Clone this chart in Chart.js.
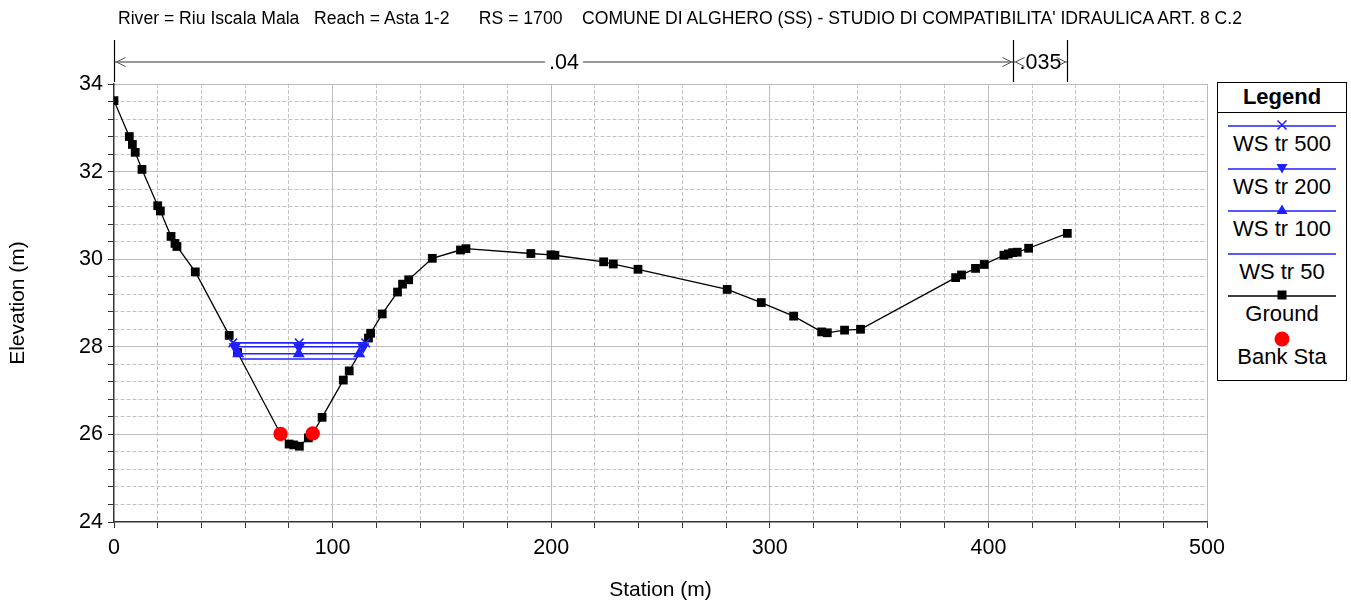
<!DOCTYPE html>
<html>
<head>
    <meta charset="utf-8">
    <title>Riu Iscala Mala - Asta 1-2 - RS 1700</title>
    <script src="https://cdn.jsdelivr.net/npm/chart.js@4.4.1/dist/chart.umd.min.js"></script>
    <style>
        body { margin: 0; background: #fff; font-family: "Liberation Sans", Arial, sans-serif; }
        #wrap { position: relative; width: 1351px; height: 601px; }
        #xs { position: absolute; left: 0; top: 0; }
        #title { position: absolute; left: 118px; top: 8px; font-size: 17.6px; line-height: 20px; white-space: pre; color: #000; }
        #legend { position: absolute; left: 1217px; top: 82px; width: 128px; height: 297px; border: 1px solid #000; background: #fff; }
        #legend .head { position: absolute; left: 0; top: 0; width: 128px; height: 29px; border-bottom: 1px solid #000;
                        font-weight: bold; font-size: 22px; line-height: 28px; text-align: center; }
        #legend .lab { position: absolute; left: 0; width: 128px; text-align: center; font-size: 22px; line-height: 24px; }
        #legend svg { position: absolute; left: 0; }
    </style>
</head>
<body>
<div id="wrap">
    <canvas id="xs" width="1351" height="601"></canvas>
    <div id="title">River = Riu Iscala Mala   Reach = Asta 1-2      RS = 1700    COMUNE DI ALGHERO (SS) - STUDIO DI COMPATIBILITA' IDRAULICA ART. 8 C.2</div>
    <div id="legend"><div class="head">Legend</div></div>
</div>

<script>
    // ground profile (station m, elevation m)
    var groundSta = [0, 7.0, 8.4, 9.7, 12.8, 20.0, 21.2, 26.1, 27.9, 28.8,
        37.2, 52.7, 56.5, 76.2, 80.1, 82.2, 84.8, 88.9, 90.9, 95.2,
        104.9, 107.6, 116.4, 117.4, 122.7, 129.7, 132.0, 134.8, 145.6, 158.5,
        161.0, 190.7, 199.9, 201.7, 224.0, 228.4, 239.7, 280.5, 296.1, 310.9,
        323.7, 326.3, 334.2, 341.5, 385.0, 387.7, 394.1, 398.1, 407.1, 409.1,
        411.1, 413.2, 418.4, 436.1];
    var groundElev = [33.62, 32.80, 32.62, 32.44, 32.05, 31.22, 31.10, 30.52, 30.36, 30.29,
        29.71, 28.26, 27.87, 26.01, 25.78, 25.76, 25.73, 25.92, 26.02, 26.39,
        27.24, 27.45, 28.20, 28.31, 28.75, 29.25, 29.43, 29.53, 30.02, 30.21,
        30.24, 30.13, 30.10, 30.09, 29.94, 29.89, 29.77, 29.31, 29.01, 28.70,
        28.34, 28.32, 28.38, 28.40, 29.58, 29.64, 29.79, 29.88, 30.09, 30.12,
        30.15, 30.16, 30.25, 30.59];

    var bankSta = [76.2, 90.9];
    var bankElev = [26.01, 26.02];

    var wsNames = ['WS tr 500', 'WS tr 200', 'WS tr 100', 'WS tr 50'];
    var wsElev = [28.09, 28.00, 27.84, 27.72];

    // manning's n zones
    var nSta = [0, 411.1, 436.1];
    var nVal = ['.04', '.035'];

    var xMin = 0, xMax = 500, xMajorStep = 100, xMinorStep = 20;
    var yMin = 24, yMax = 34, yMajorStep = 2, yMinorStep = 0.4;

    var FONT = '"Liberation Sans", Arial, sans-serif';
    var wsColor = '#1f1fff';

    function isMult(v, step) {
        var r = v / step;
        return Math.abs(r - Math.round(r)) < 1e-6;
    }

    function cross(i, j, elev) {
        var t = (elev - groundElev[i]) / (groundElev[j] - groundElev[i]);
        return groundSta[i] + t * (groundSta[j] - groundSta[i]);
    }

    // where a water level meets the banks, searching out from the thalweg
    function wsExtent(elev) {
        var iMin = 0, i;
        for (i = 1; i < groundElev.length; i++) if (groundElev[i] < groundElev[iMin]) iMin = i;
        var left = groundSta[0], right = groundSta[groundSta.length - 1];
        for (i = iMin; i > 0; i--) {
            if (groundElev[i - 1] >= elev) { left = cross(i - 1, i, elev); break; }
        }
        for (i = iMin; i < groundElev.length - 1; i++) {
            if (groundElev[i + 1] >= elev) { right = cross(i, i + 1, elev); break; }
        }
        return [left, right];
    }

    var wsMarkers = [
        {style: 'crossRot', rot: 0, r: 6},
        {style: 'triangle', rot: 180, r: 5.5},
        {style: 'triangle', rot: 0, r: 5.5},
        {style: 'circle', rot: 0, r: 0}
    ];

    var datasets = [];
    datasets.push({
        label: 'Bank Sta',
        data: bankSta.map(function (s, i) { return {x: s, y: bankElev[i]}; }),
        showLine: false, pointStyle: 'circle', pointRadius: 7.2,
        backgroundColor: '#ff0000', borderColor: '#ff0000', pointBorderWidth: 0, order: 0
    });
    wsNames.forEach(function (name, k) {
        var ext = wsExtent(wsElev[k]);
        var m = wsMarkers[k];
        datasets.push({
            label: name,
            data: [{x: ext[0], y: wsElev[k]}, {x: (ext[0] + ext[1]) / 2, y: wsElev[k]}, {x: ext[1], y: wsElev[k]}],
            showLine: true, borderColor: wsColor, backgroundColor: wsColor, borderWidth: 1.6,
            pointStyle: m.style, pointRotation: m.rot, pointRadius: m.r, pointBorderWidth: 1.5,
            order: 1 + k
        });
    });
    datasets.push({
        label: 'Ground',
        data: groundSta.map(function (s, i) { return {x: s, y: groundElev[i]}; }),
        showLine: true, borderColor: '#000', backgroundColor: '#000', borderWidth: 1.3,
        pointStyle: 'rect', pointRadius: 6.2, pointBorderWidth: 0, order: 10
    });

    // n-value bands above the plot
    var nValuePlugin = {
        id: 'nValues',
        afterDraw: function (chart) {
            var c = chart.ctx, xs = chart.scales.x;
            var top = chart.chartArea.top;
            var yl = top - 22, y0 = top - 44;
            var px = nSta.map(function (s) { return Math.round(xs.getPixelForValue(s)) + 0.5; });
            c.save();
            c.strokeStyle = '#000';
            c.lineWidth = 1.2;
            px.forEach(function (p) {
                c.beginPath(); c.moveTo(p, y0); c.lineTo(p, top - 2); c.stroke();
            });
            c.font = '21.5px ' + FONT;
            c.textAlign = 'center';
            c.textBaseline = 'middle';
            c.lineWidth = 1;
            for (var i = 0; i < nVal.length; i++) {
                var a = px[i], b = px[i + 1], mid = (a + b) / 2;
                var w = c.measureText(nVal[i]).width;
                c.strokeStyle = '#333';
                if (mid - w / 2 - 4 > a) {
                    c.beginPath(); c.moveTo(a, yl); c.lineTo(mid - w / 2 - 4, yl);
                    c.moveTo(mid + w / 2 + 4, yl); c.lineTo(b, yl); c.stroke();
                }
                c.strokeStyle = '#555';
                c.beginPath();
                c.moveTo(a + 11, yl - 4.5); c.lineTo(a + 2, yl); c.lineTo(a + 11, yl + 4.5);
                c.moveTo(b - 11, yl - 4.5); c.lineTo(b - 2, yl); c.lineTo(b - 11, yl + 4.5);
                c.stroke();
                c.fillStyle = '#000';
                c.fillText(nVal[i], mid, yl + 1);
            }
            c.restore();
        }
    };

    var tickFont = {family: FONT, size: 21.5};
    var axisTitleFont = {family: FONT, size: 21, lineHeight: 1};

    var chart = new Chart(document.getElementById('xs'), {
        type: 'scatter',
        data: {datasets: datasets},
        options: {
            responsive: false,
            animation: false,
            events: [],
            layout: {padding: {top: 84, right: 144, left: 0, bottom: 0}},
            plugins: {legend: {display: false}, title: {display: false}, tooltip: {enabled: false}},
            scales: {
                x: {
                    type: 'linear', position: 'bottom', min: xMin, max: xMax,
                    ticks: {
                        stepSize: xMinorStep, autoSkip: false, maxRotation: 0, padding: 7, color: '#000', font: tickFont,
                        callback: function (v) { return isMult(v, xMajorStep) ? String(v) : ''; }
                    },
                    grid: {
                        color: function (c) { return isMult(c.tick.value, xMajorStep) ? 'rgba(0,0,0,0)' : '#c4c4c4'; },
                        lineWidth: 1, tickColor: '#333', tickLength: 6, tickWidth: 1
                    },
                    border: {color: '#333', width: 1.5, dash: [4, 2]},
                    title: {display: true, text: 'Station (m)', color: '#000', font: axisTitleFont, padding: {top: 2, bottom: 0}},
                    afterFit: function (s) { s.height = 79; }
                },
                xMajor: {
                    type: 'linear', position: 'bottom', min: xMin, max: xMax,
                    ticks: {stepSize: xMajorStep, display: false},
                    grid: {
                        color: function (c) { return c.tick.value === xMin ? 'rgba(0,0,0,0)' : '#bdbdbd'; },
                        drawTicks: false, lineWidth: 1
                    },
                    border: {display: false},
                    afterFit: function (s) { s.height = 0; }
                },
                y: {
                    type: 'linear', position: 'left', min: yMin, max: yMax,
                    ticks: {
                        stepSize: yMinorStep, autoSkip: false, padding: 5, color: '#000', font: tickFont,
                        callback: function (v) { return isMult(v, yMajorStep) ? String(Math.round(v)) : ''; }
                    },
                    grid: {
                        color: function (c) { return isMult(c.tick.value, yMajorStep) ? 'rgba(0,0,0,0)' : '#c4c4c4'; },
                        lineWidth: 1, tickColor: '#333', tickLength: 6, tickWidth: 1
                    },
                    border: {color: '#333', width: 1.5, dash: [4, 2]},
                    title: {display: true, text: 'Elevation (m)', color: '#000', font: axisTitleFont, padding: {top: 8, bottom: 4}},
                    afterFit: function (s) { s.width = 114; }
                },
                yMajor: {
                    type: 'linear', position: 'left', min: yMin, max: yMax,
                    ticks: {stepSize: yMajorStep, display: false},
                    grid: {
                        color: function (c) { return c.tick.value === yMin ? 'rgba(0,0,0,0)' : '#bdbdbd'; },
                        drawTicks: false, lineWidth: 1
                    },
                    border: {display: false},
                    afterFit: function (s) { s.width = 0; }
                }
            }
        },
        plugins: [nValuePlugin]
    });

    // legend box, same entries and styles as the datasets
    function markerSvg(kind, color) {
        var cx = 64, cy = 8;
        if (kind === 'cross') return '<path d="M' + (cx - 4.5) + ' ' + (cy - 4.5) + 'L' + (cx + 4.5) + ' ' + (cy + 4.5) + 'M' + (cx + 4.5) + ' ' + (cy - 4.5) + 'L' + (cx - 4.5) + ' ' + (cy + 4.5) + '" stroke="' + color + '" stroke-width="1.5"/>';
        if (kind === 'down') return '<polygon points="' + (cx - 5.5) + ',' + (cy - 4) + ' ' + (cx + 5.5) + ',' + (cy - 4) + ' ' + cx + ',' + (cy + 5.5) + '" fill="' + color + '"/>';
        if (kind === 'up') return '<polygon points="' + (cx - 5.5) + ',' + (cy + 4) + ' ' + (cx + 5.5) + ',' + (cy + 4) + ' ' + cx + ',' + (cy - 5.5) + '" fill="' + color + '"/>';
        if (kind === 'square') return '<rect x="' + (cx - 4.5) + '" y="' + (cy - 4.5) + '" width="9" height="9" fill="' + color + '"/>';
        if (kind === 'dot') return '<circle cx="' + cx + '" cy="' + cy + '" r="7.5" fill="' + color + '"/>';
        return '';
    }

    var legendRows = [
        {label: wsNames[0], line: wsColor, mark: 'cross', mc: wsColor},
        {label: wsNames[1], line: wsColor, mark: 'down', mc: wsColor},
        {label: wsNames[2], line: wsColor, mark: 'up', mc: wsColor},
        {label: wsNames[3], line: wsColor, mark: '', mc: wsColor},
        {label: 'Ground', line: '#000', mark: 'square', mc: '#000'},
        {label: 'Bank Sta', line: null, mark: 'dot', mc: '#ff0000'}
    ];
    var box = document.getElementById('legend');
    legendRows.forEach(function (r, i) {
        var ly = 43 + 42.6 * i;
        var svg = '<svg width="128" height="18" style="top:' + (ly - 9) + 'px">';
        if (r.line) svg += '<line x1="10" y1="9" x2="118" y2="9" stroke="' + r.line + '" stroke-width="1.5"/>';
        svg += markerSvg(r.mark, r.mc).replace(/cy="8"/, 'cy="9"') + '</svg>';
        box.insertAdjacentHTML('beforeend', svg);
        box.insertAdjacentHTML('beforeend', '<div class="lab" style="top:' + (ly + 6) + 'px">' + r.label + '</div>');
    });
</script>
</body>
</html>
